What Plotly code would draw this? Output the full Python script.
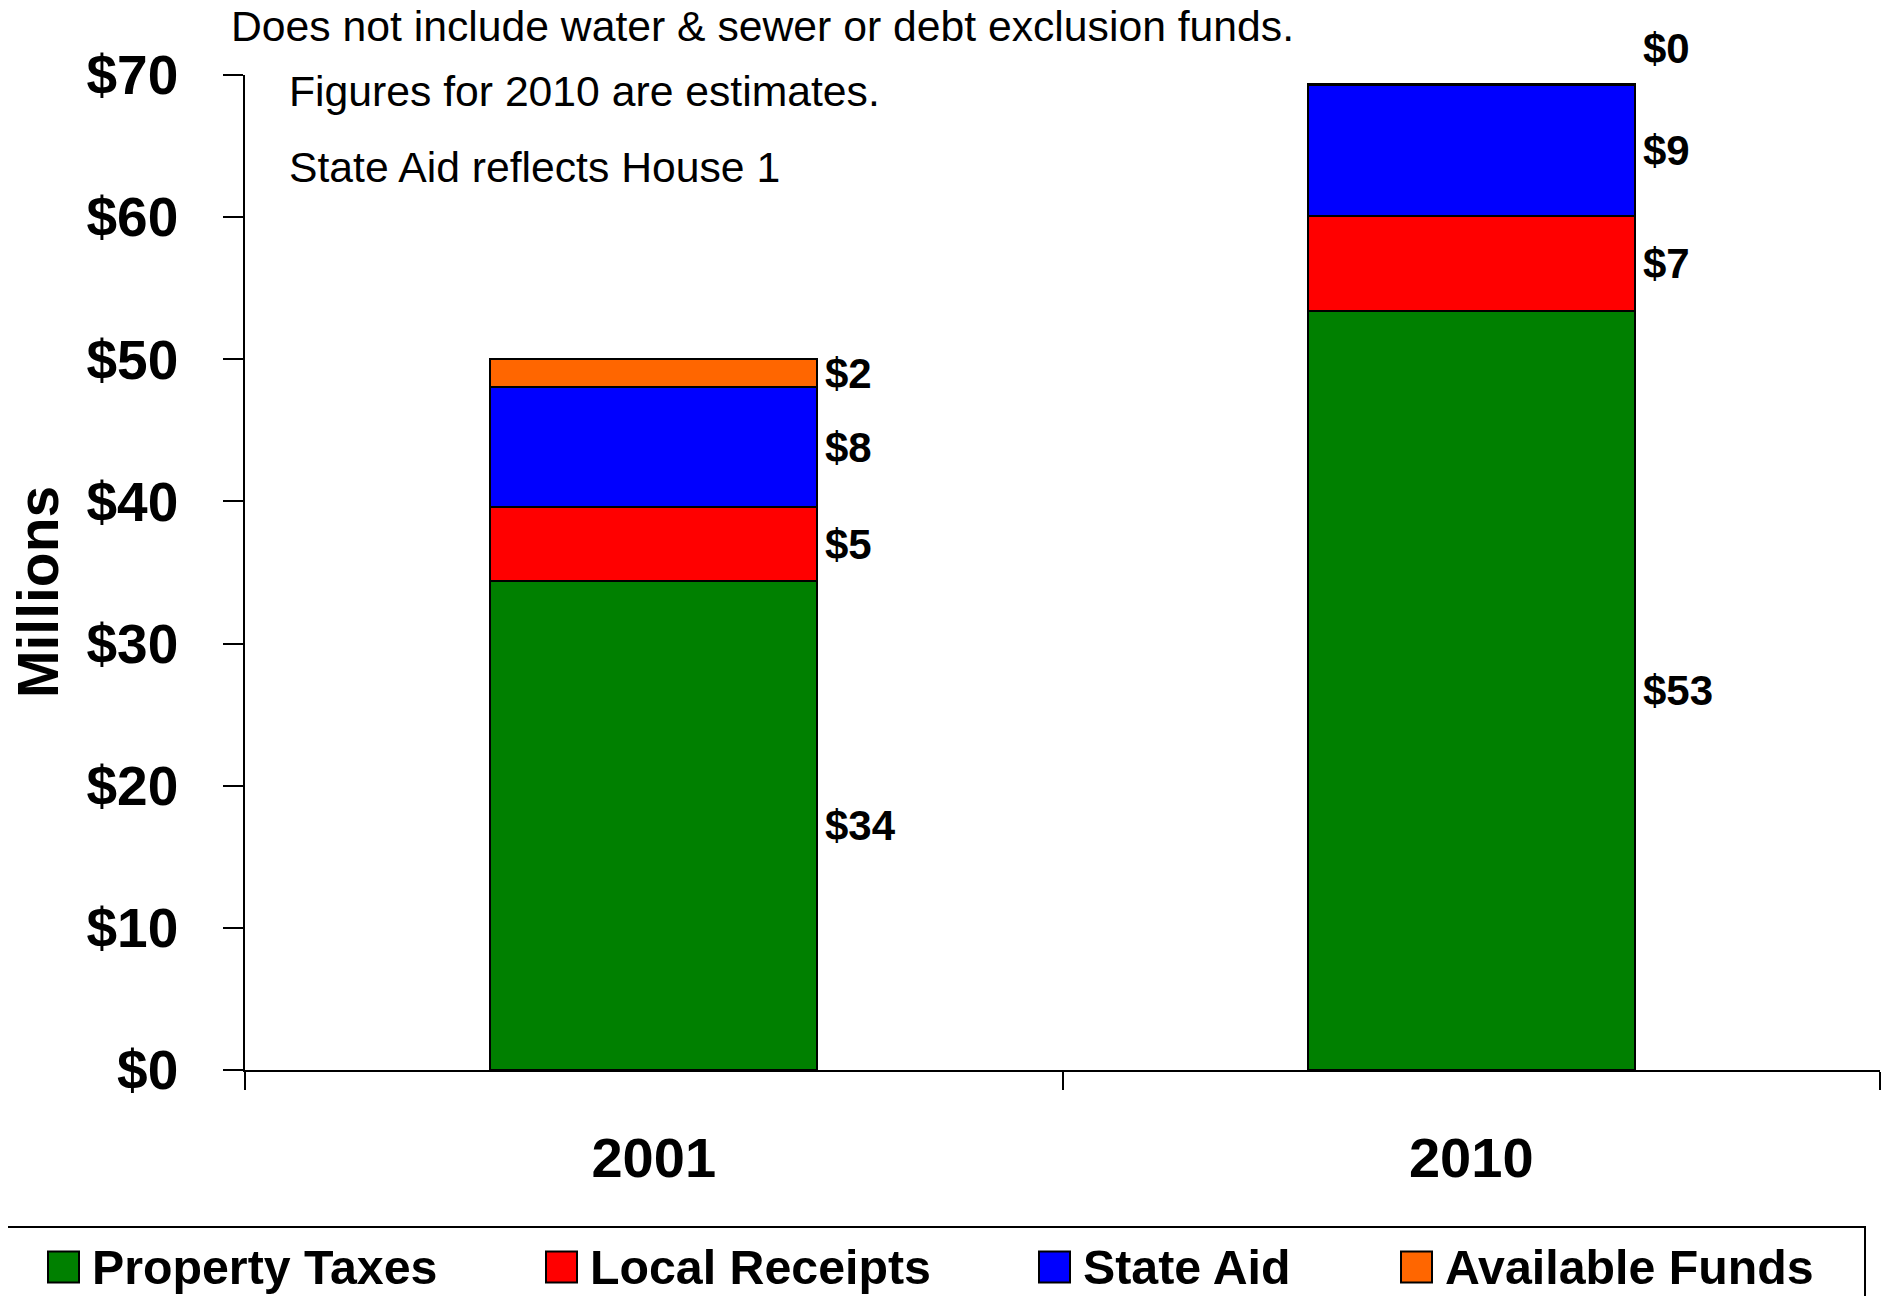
import plotly.graph_objects as go

# ---- data ----
years = ["2001", "2010"]
property_taxes = [34.4, 53.4]
local_receipts = [5.2, 6.7]
state_aid = [8.45, 9.2]
available_funds = [1.95, 0.1]

series_names = ["Property Taxes", "Local Receipts", "State Aid", "Available Funds"]
series_values = [property_taxes, local_receipts, state_aid, available_funds]
series_colors = ["#008000", "#FF0000", "#0000FF", "#FF6600"]

y_tick_values = [0, 10, 20, 30, 40, 50, 60, 70]
y_tick_labels = ["$" + str(v) for v in y_tick_values]
y_title = "Millions"

notes = [
    "Does not include water & sewer or debt exclusion funds.",
    "Figures for 2010 are estimates.",
    "State Aid reflects House 1",
]

# ---- layout geometry (page pixels; page body has an 8px margin) ----
O = 8
W, H = 1890 - O, 1296 - O
PL, PT, PR, PB = 245, 75, 1880, 1070      # plot area in page pixels
L, T = PL - O, PT - O
R, B = W - (PR - O), H - (PB - O)
PW, PH = PR - PL, PB - PT
FONT = "Liberation Sans, Arial, sans-serif"
BAR_W = 0.4


def px_x(p):
    return (p - PL) / PW


def px_y(p):
    return (PB - p) / PH


fig = go.Figure()
for name, vals, col in zip(series_names, series_values, series_colors):
    fig.add_trace(go.Bar(
        x=years, y=vals, name=name, width=BAR_W,
        marker=dict(color=col, line=dict(color="black", width=2)),
        showlegend=False,
    ))

annotations = []
# segment value labels to the right of each bar
for i, yr in enumerate(years):
    base = 0.0
    for vals in series_values:
        v = vals[i]
        small = v < 1
        annotations.append(dict(
            x=i + BAR_W / 2, y=base + v / 2, xref="x", yref="y",
            text=f"${v:.0f}", showarrow=False, xanchor="left", yanchor="middle",
            xshift=6, yshift=36 if small else 0,
            font=dict(family=FONT, size=42, color="black", weight="bold"),
        ))
        base += v

# notes
note_pos = [(229, 26), (287, 91), (287, 167)]
for txt, (nx, ny) in zip(notes, note_pos):
    annotations.append(dict(
        x=px_x(nx), y=px_y(ny), xref="paper", yref="paper", text=txt,
        showarrow=False, xanchor="left", yanchor="middle",
        font=dict(family=FONT, size=42.7, color="black"),
    ))

# y-axis title
annotations.append(dict(
    x=px_x(38), y=px_y(592), xref="paper", yref="paper", text=y_title,
    showarrow=False, xanchor="center", yanchor="middle", textangle=-90,
    font=dict(family=FONT, size=57, color="black", weight="bold"),
))

# manual legend
shapes = [dict(type="rect", xref="paper", yref="paper",
               x0=px_x(0), x1=px_x(1865), y0=px_y(1227), y1=px_y(1330),
               line=dict(color="black", width=2), fillcolor="rgba(0,0,0,0)")]
leg_x = [48, 546, 1039, 1401]
leg_cy = 1267
sq = 31
for name, col, lx in zip(series_names, series_colors, leg_x):
    shapes.append(dict(type="rect", xref="paper", yref="paper",
                       x0=px_x(lx), x1=px_x(lx + sq),
                       y0=px_y(leg_cy + sq / 2), y1=px_y(leg_cy - sq / 2),
                       fillcolor=col, line=dict(color="black", width=2)))
    annotations.append(dict(
        x=px_x(lx + sq + 11), y=px_y(leg_cy), xref="paper", yref="paper",
        text=name, showarrow=False, xanchor="left", yanchor="middle",
        font=dict(family=FONT, size=48.3, color="black", weight="bold"),
    ))

fig.update_layout(
    width=W, height=H,
    margin=dict(l=L, r=R, t=T, b=B, pad=0),
    barmode="stack",
    plot_bgcolor="white", paper_bgcolor="white",
    font=dict(family=FONT, color="black"),
    annotations=annotations,
    shapes=shapes,
    showlegend=False,
)
fig.update_xaxes(
    type="category", showline=True, linecolor="black", linewidth=2,
    ticks="outside", tickson="boundaries", ticklen=18, tickwidth=1.5, tickcolor="black",
    tickfont=dict(family=FONT, size=56, color="black", weight="bold"),
    ticklabelstandoff=38, showgrid=False, zeroline=False,
)
fig.update_yaxes(
    range=[0, 70], tickmode="array", tickvals=y_tick_values, ticktext=y_tick_labels,
    showline=True, linecolor="black", linewidth=1.5,
    ticks="outside", ticklen=20, tickwidth=1.5, tickcolor="black",
    tickfont=dict(family=FONT, size=55, color="black", weight="bold"),
    ticklabelstandoff=34, showgrid=False, zeroline=False,
)

fig.write_html("out.html")
